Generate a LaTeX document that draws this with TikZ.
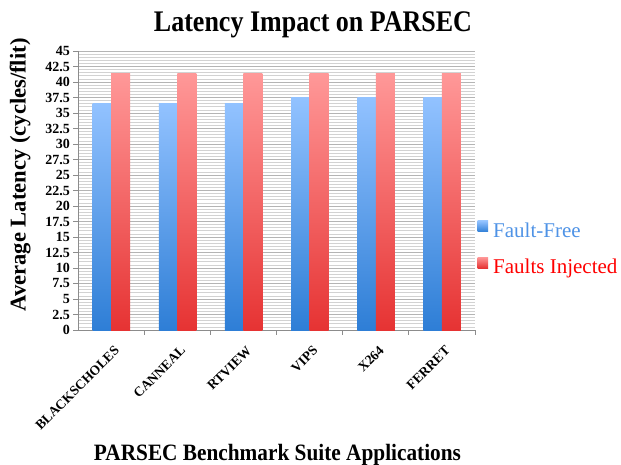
\documentclass[tikz,border=0pt]{standalone}
\usepackage{fontspec}
\setmainfont{Liberation Serif}
\definecolor{bluetop}{HTML}{92C2FF}
\definecolor{bluebot}{HTML}{2E7ED6}
\definecolor{redtop}{HTML}{FF9898}
\definecolor{redbot}{HTML}{E63333}
\definecolor{gridc}{HTML}{D2D2D2}
\definecolor{gridmaj}{HTML}{B4B4B4}
\definecolor{axisc}{HTML}{8C8C8C}
\definecolor{legblue}{HTML}{4F93E6}
\tikzset{
  gridline/.style={gridc, line width=0.7pt},
  majline/.style={gridmaj, line width=0.8pt},
  axisline/.style={axisc, line width=0.8pt},
  ylab/.style={anchor=east, inner sep=0pt, font=\fontsize{14}{14}\selectfont\bfseries},
  xlab/.style={anchor=north east, rotate=45, inner sep=0pt, font=\fontsize{13.5}{13.5}\selectfont\bfseries},
  bluebar/.style={top color=bluetop, bottom color=bluebot},
  redbar/.style={top color=redtop, bottom color=redbot},
  legtext/.style={anchor=base west, inner sep=0pt, font=\fontsize{21}{21}\selectfont}
}
\begin{document}
\begin{tikzpicture}[x=1pt,y=-1pt]
\useasboundingbox[fill=white] (0,0) rectangle (621,465);
% grid
\foreach \i in {1,...,90} {
  \draw[gridline] (78,{330-\i*3.1}) -- (475,{330-\i*3.1});
}
\foreach \k in {1,...,18} {
  \draw[majline] (78,{330-\k*15.5}) -- (475,{330-\k*15.5});
}
% axes
\coordinate (o) at (78,330);
\coordinate (ytop) at (78,51);
\coordinate (xend) at (475,330);
\draw[axisline] (ytop) -- (o) -- (xend);
% y ticks and labels
\foreach \t [count=\k from 0] in {0,2.5,5,7.5,10,12.5,15,17.5,20,22.5,25,27.5,30,32.5,35,37.5,40,42.5,45} {
  \draw[axisline] (73,{330-\k*15.5}) -- (78,{330-\k*15.5});
  \node[ylab] (yl\k) at (70,{330-\k*15.5}) {\t};
}
% x ticks
\foreach \k in {1,...,6} {
  \draw[axisline] ({78+\k*66.17},330) -- ({78+\k*66.17},335);
}
% bars
\foreach \b/\r/\name [count=\k from 0] in {36.5/41.3/BLACKSCHOLES,36.5/41.3/CANNEAL,36.5/41.3/RTVIEW,37.5/41.3/VIPS,37.5/41.3/X264,37.5/41.3/FERRET} {
  \pgfmathsetmacro{\c}{78+66.17*(\k+0.5)}
  \shade[bluebar] ({\c-18.5},{330-\b*6.2}) rectangle (\c,330);
  \shade[redbar] (\c,{330-\r*6.2}) rectangle ({\c+19},330);
  \node[xlab] (xl\k) at ({\c+2.5},345) {\name};
}
% titles
\node[anchor=base, inner sep=0pt, yscale=1.15, font=\fontsize{26}{26}\selectfont\bfseries] (title) at (313,32) {Latency Impact on PARSEC};
\node[anchor=base, inner sep=0pt, yscale=1.1, font=\fontsize{21.3}{22}\selectfont\bfseries] (xtitle) at (277.5,460.5) {PARSEC Benchmark Suite Applications};
\node[anchor=base, inner sep=0pt, rotate=90, font=\fontsize{22.6}{23}\selectfont\bfseries] (ytitle) at (25.5,175) {Average Latency (cycles/flit)};
% legend
\shade[bluebar] (477.5,221) rectangle (488,232);
\node[legtext, text=legblue] (leg1) at (493,237) {Fault-Free};
\shade[redbar] (477.5,257) rectangle (488,268);
\node[legtext, text=red] (leg2) at (493,273) {Faults Injected};
\end{tikzpicture}
\end{document}
